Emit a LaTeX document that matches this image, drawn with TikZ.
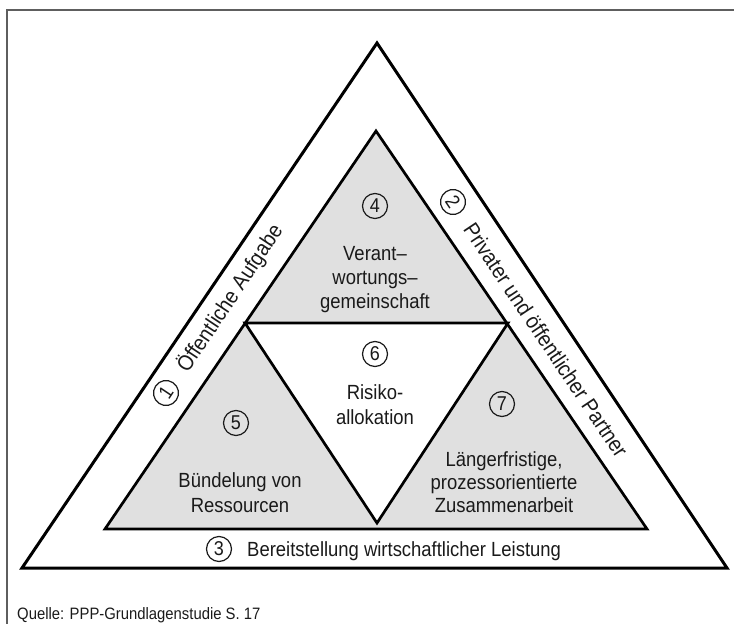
\documentclass[tikz,border=0pt]{standalone}
\usepackage{fontspec}
\setmainfont{Liberation Sans}[FakeStretch=0.9]
\usetikzlibrary{calc}
\definecolor{fillgray}{HTML}{E0E0E0}
\definecolor{framegray}{HTML}{5E5E5E}
\definecolor{txt}{HTML}{1A1A1A}
\begin{document}
\begin{tikzpicture}[x=1pt,y=-1pt,
  lbl/.style={font=\fontsize{20.5}{24}\selectfont, text=txt, inner sep=0pt, anchor=base},
  rlbl/.style={font=\fontsize{21.8}{24}\selectfont, text=txt, inner sep=0pt, anchor=base west},
  num/.style={circle, draw=txt, line width=1.2pt, minimum size=25pt, inner sep=0pt, font=\fontsize{20}{24}\selectfont, text=txt},
  edge/.style={line width=2.7pt, line join=miter, draw=black}
]
\useasboundingbox (0,0) rectangle (734,624);
% frame
\coordinate (FB) at (7,624);
\coordinate (FC) at (7,10);
\coordinate (FR) at (734,10);
\draw[framegray, line width=2pt] (FB) -- (FC) -- (FR);
% outer triangle
\coordinate (OL) at (22,568);
\coordinate (OR) at (727,568);
\coordinate (OT) at (377,43);
\draw[edge, line width=3pt] (OL) -- (OR) -- (OT) -- cycle;
% inner triangle
\coordinate (IL) at (105,529);
\coordinate (IR) at (647,529);
\coordinate (IT) at (376,131);
\coordinate (ML) at (245,323);
\coordinate (MR) at (508,323);
\coordinate (MB) at (377,523);
\fill[fillgray] (IL) -- (IR) -- (IT) -- cycle;
\fill[white] (ML) -- (MR) -- (MB) -- cycle;
\draw[edge] (IL) -- (IR) -- (IT) -- cycle;
\draw[edge] (ML) -- (MR) -- (MB) -- cycle;
% band labels
\node[num, rotate=56.2] (n1) at (166,393) {1};
\path (n1.center) ++(56.2:28pt) ++(-33.8:7.3pt) coordinate (b1);
\node[rlbl, rotate=56.2] (t1) at (b1) {Öffentliche Aufgabe};
\node[num, rotate=-56.2] (n2) at (453,202) {2};
\path (n2.center) ++(-56.2:28pt) ++(-146.2:7.3pt) coordinate (b2);
\node[rlbl, rotate=-56.2] (t2) at (b2) {Privater und öffentlicher Partner};
\node[num] (n3) at (219,549) {3};
\node[lbl, anchor=base west] (t3) at ($(n3.center)+(28,7.3)$) {Bereitstellung wirtschaftlicher Leistung};
% inner labels
\node[num] (n4) at (375,206) {4};
\node[lbl] (t4a) at (375,260) {Verant–};
\node[lbl] (t4b) at (375,284) {wortungs–};
\node[lbl] (t4c) at (375,308) {gemeinschaft};
\node[num] (n6) at (375,354) {6};
\node[lbl] (t6a) at (375,399) {Risiko-};
\node[lbl] (t6b) at (375,424) {allokation};
\node[num] (n5) at (236,423) {5};
\node[lbl] (t5a) at (240,487) {Bündelung von};
\node[lbl] (t5b) at (240,512) {Ressourcen};
\node[num] (n7) at (502,404) {7};
\node[lbl] (t7a) at (504,466) {Längerfristige,};
\node[lbl] (t7b) at (504,489) {prozessorientierte};
\node[lbl] (t7c) at (504,512) {Zusammenarbeit};
% source
\node[font=\fontsize{16.5}{19}\selectfont, text=txt, inner sep=0pt, anchor=base west] (src) at (17,619) {Quelle: PPP-Grundlagenstudie S. 17};
\end{tikzpicture}
\end{document}
